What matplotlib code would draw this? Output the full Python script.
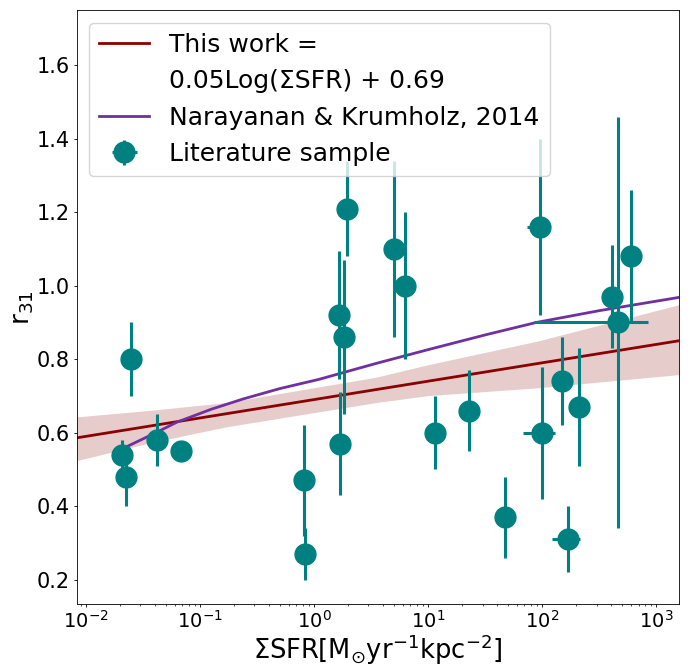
import matplotlib
matplotlib.use("Agg")
import matplotlib.pyplot as plt

# literature sample
sfr = [0.0208, 0.0223, 0.0249, 0.042, 0.0678, 0.811, 0.834, 1.64, 1.84, 1.70,
       1.93, 5.02, 6.31, 11.5, 22.8, 47.2, 96.2, 99.6, 150, 212, 169, 412, 465, 600]
r31 = [0.54, 0.48, 0.80, 0.58, 0.55, 0.47, 0.27, 0.92, 0.86, 0.57,
       1.21, 1.10, 1.00, 0.60, 0.66, 0.37, 1.16, 0.60, 0.74, 0.67, 0.31, 0.97, 0.90, 1.08]
r31_err = [0.04, 0.08, 0.10, 0.07, 0.0, 0.15, 0.07, 0.175, 0.21, 0.14,
           0.13, 0.24, 0.20, 0.10, 0.11, 0.11, 0.24, 0.18, 0.12, 0.16, 0.09, 0.14, 0.56, 0.18]
sfr_err = [0, 0, 0, 0, 0, 0, 0, 0, 0, 0,
           0, 0, 0, 0, 0, 0, 22, 31, 0, 0, 46, 0, 380, 0]

# this work fit + confidence band
fit_x = [0.0083, 1570]
fit_y = [0.586, 0.850]
band_x = [0.0083, 0.037, 0.17, 3.5, 10, 90, 1570]
band_lo = [0.524, 0.573, 0.616, 0.682, 0.701, 0.722, 0.758]
band_hi = [0.643, 0.661, 0.682, 0.751, 0.785, 0.849, 0.948]

# Narayanan & Krumholz 2014
nk_x = [0.0226, 0.0398, 0.0631, 0.126, 0.240, 0.501, 1.10, 3.55, 10, 31.6, 89, 316, 1570]
nk_y = [0.5615, 0.598, 0.629, 0.664, 0.692, 0.720, 0.745, 0.789, 0.826, 0.866, 0.900, 0.932, 0.968]

fig = plt.figure(figsize=(6.91, 6.66), dpi=100)
ax = fig.add_axes([0.111, 0.0926, 0.871, 0.8923])

ax.fill_between(band_x, band_lo, band_hi, color="darkred", alpha=0.2, lw=0)
ax.plot(fit_x, fit_y, color="darkred", lw=2, label="This work =")
ax.plot([], [], " ", label="0.05Log(ΣSFR) + 0.69")
ax.plot(nk_x, nk_y, color="#7030a0", lw=2, label="Narayanan & Krumholz, 2014")
ax.errorbar(sfr, r31, yerr=r31_err, xerr=sfr_err, fmt="o", color="teal",
            ms=15, elinewidth=2.2, label="Literature sample")

ax.set_xscale("log")
ax.set_xlim(0.0083, 1570)
ax.set_ylim(0.133, 1.75)
ax.tick_params(which="major", length=2.5, width=0.6, pad=2.5)
ax.tick_params(axis="x", labelsize=14, pad=1.5)
ax.tick_params(axis="y", labelsize=15)
ax.tick_params(which="minor", length=1.5, width=0.5)
for s in ax.spines.values():
    s.set_linewidth(0.6)
ax.set_xlabel("ΣSFR[M$_{\\odot}$yr$^{-1}$kpc$^{-2}$]", fontsize=18.5)
ax.set_ylabel("r$_{31}$", fontsize=19)
ax.xaxis.set_label_coords(0.5, -0.047)
ax.yaxis.set_label_coords(-0.068, 0.5)
ax.legend(loc="upper left", fontsize=18)

fig.savefig("out.png", dpi=100)
